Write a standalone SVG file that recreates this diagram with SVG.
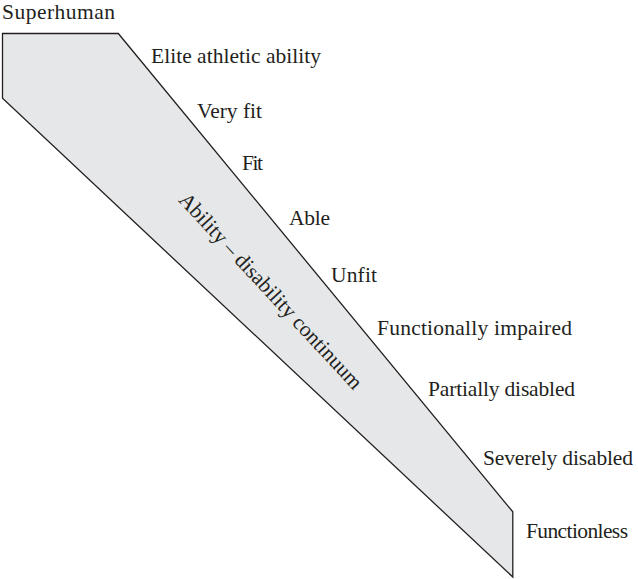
<svg xmlns="http://www.w3.org/2000/svg" width="638" height="579" viewBox="0 0 638 579">
  <style>
    .lbl { font-family: "Liberation Serif", "Times New Roman", serif; font-size: 21.5px; fill: #231f20; }
    .band { fill: #e6e7e8; stroke: #231f20; stroke-width: 1.3; stroke-linejoin: miter; }
  </style>
  <rect width="638" height="579" fill="#ffffff"/>

  <!-- Tapering band of the continuum -->
  <g id="continuum-band">
    <polygon class="band" points="2.5,33.5 118.3,33.5 512.8,511.8 512.8,577 2.5,98.3"/>
    <text class="lbl" transform="translate(177.7,200.7) rotate(47.2)" textLength="259" lengthAdjust="spacing">Ability – disability continuum</text>
  </g>

  <!-- Levels along the scale -->
  <g id="level-superhuman"><text class="lbl" x="2" y="18.5" textLength="113" lengthAdjust="spacing">Superhuman</text></g>
  <g id="level-elite"><text class="lbl" x="151" y="63" textLength="170" lengthAdjust="spacing">Elite athletic ability</text></g>
  <g id="level-very-fit"><text class="lbl" x="197" y="118" textLength="65" lengthAdjust="spacing">Very fit</text></g>
  <g id="level-fit"><text class="lbl" x="242" y="170" textLength="21" lengthAdjust="spacing">Fit</text></g>
  <g id="level-able"><text class="lbl" x="289" y="225" textLength="41" lengthAdjust="spacing">Able</text></g>
  <g id="level-unfit"><text class="lbl" x="331" y="282" textLength="46" lengthAdjust="spacing">Unfit</text></g>
  <g id="level-impaired"><text class="lbl" x="377" y="335" textLength="195" lengthAdjust="spacing">Functionally impaired</text></g>
  <g id="level-partial"><text class="lbl" x="428" y="396" textLength="147" lengthAdjust="spacing">Partially disabled</text></g>
  <g id="level-severe"><text class="lbl" x="483" y="465" textLength="150" lengthAdjust="spacing">Severely disabled</text></g>
  <g id="level-functionless"><text class="lbl" x="526" y="538" textLength="102" lengthAdjust="spacing">Functionless</text></g>
</svg>
